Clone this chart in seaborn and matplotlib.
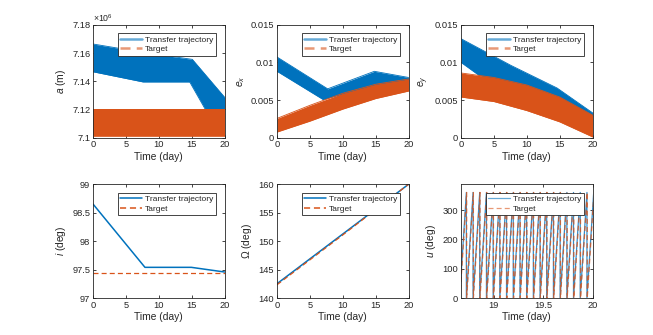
import numpy as np
import pandas as pd
import matplotlib
matplotlib.use("Agg")
import matplotlib.pyplot as plt
import seaborn as sns
from matplotlib.lines import Line2D
from matplotlib.ticker import FuncFormatter

# ---------------- data ----------------
# semi-major axis band (m)
a_tr_t_up = [0, 7.6, 15.1, 20]
a_tr_up = [7.1664e6, 7.1605e6, 7.1555e6, 7.1287e6]
a_tr_t_lo = [0, 7.6, 14.7, 17.2, 20]
a_tr_lo = [7.1467e6, 7.1395e6, 7.1395e6, 7.1190e6, 7.1130e6]
a_tg_t = [0, 20]
a_tg_up = [7.1205e6, 7.1205e6]
a_tg_lo = [7.1014e6, 7.1014e6]

# e_x band
ex_tr_t_up = [0, 7.7, 14.8, 20]
ex_tr_up = [0.01072, 0.00649, 0.00882, 0.00800]
ex_tr_t_lo = [0, 7.0, 10, 15, 20]
ex_tr_lo = [0.00882, 0.00507, 0.00580, 0.00700, 0.00770]
ex_tg_t = [0, 5, 10, 15, 20]
ex_tg_up = [0.00256, 0.00430, 0.00590, 0.00710, 0.00780]
ex_tg_lo = [0.00075, 0.00220, 0.00380, 0.00520, 0.00620]

# e_y band
ey_tr_t_up = [0, 7.6, 14.6, 20]
ey_tr_up = [0.01315, 0.00960, 0.00660, 0.00330]
ey_tr_t_lo = [0, 2.7, 10, 20]
ey_tr_lo = [0.01000, 0.00830, 0.00650, 0.00280]
ey_tg_t = [0, 5, 10, 15, 20]
ey_tg_up = [0.00860, 0.00800, 0.00700, 0.00540, 0.00300]
ey_tg_lo = [0.00540, 0.00480, 0.00360, 0.00210, 0.00010]

# inclination (deg)
i_tr_t = [0, 7.9, 14.95, 20]
i_tr = [98.653, 97.541, 97.541, 97.459]
i_tg_t = [0, 20]
i_tg = [97.447, 97.447]

# RAAN (deg)
om_t = [0, 10, 20]
om_tr = [142.53, 151.26, 160.0]
om_tg = [142.35, 151.10, 160.0]

# argument of latitude: wrap times (day)
u_tr_wraps = [18.656, 18.724, 18.792, 18.859, 18.927, 18.995, 19.062, 19.130,
              19.198, 19.266, 19.333, 19.401, 19.469, 19.536, 19.604, 19.672,
              19.740, 19.807, 19.875, 19.943, 20.011]
u_tg_wraps = [18.659, 18.727, 18.795, 18.862, 18.930, 18.998, 19.065, 19.133,
              19.201, 19.269, 19.336, 19.404, 19.472, 19.539, 19.607, 19.675,
              19.743, 19.810, 19.878, 19.946, 20.014]
u_max = 360

time_ticks = [0, 5, 10, 15, 20]
labels = ["Transfer trajectory", "Target"]

# ---------------- style ----------------
sns.set_theme(style="white")
plt.rcParams["font.family"] = ["Liberation Sans", "DejaVu Sans"]
plt.rcParams["mathtext.fontset"] = "custom"
plt.rcParams["mathtext.rm"] = "Liberation Sans"
plt.rcParams["mathtext.it"] = "Liberation Sans:italic"
plt.rcParams["mathtext.bf"] = "Liberation Sans:bold"

BLUE = "#0072BD"
ORANGE = "#D95319"
AX = "#262626"
DASH = (0, (4, 2.5))

fig = plt.figure(figsize=(6.53, 3.35), dpi=100)
lefts = [0.1424, 0.4242, 0.7060]
w = 0.2015
top_b, top_h = 0.589, 0.337
bot_b, bot_h = 0.110, 0.340
axes = [[fig.add_axes([l, top_b, w, top_h]) for l in lefts],
        [fig.add_axes([l, bot_b, w, bot_h]) for l in lefts]]


def style(ax):
    for s in ax.spines.values():
        s.set_linewidth(0.6)
        s.set_color(AX)
        s.set_visible(True)
        s.set_zorder(10)
    ax.tick_params(direction="in", length=2.5, width=0.6, color=AX,
                   labelcolor=AX, labelsize=6.7, top=True, right=True,
                   bottom=True, left=True, pad=2)
    ax.set_facecolor("white")


def legend(ax, lw=1.8, alpha=0.55):
    h = [Line2D([], [], color=BLUE, lw=lw, alpha=alpha),
         Line2D([], [], color=ORANGE, lw=lw, ls=DASH, alpha=alpha)]
    lg = ax.legend(h, labels, loc="upper right", bbox_to_anchor=(0.935, 0.925),
                   borderaxespad=0, fontsize=6.0, frameon=True, fancybox=False,
                   framealpha=1, edgecolor=AX, handlelength=2.6,
                   handletextpad=0.4, borderpad=0.3, labelspacing=0.2)
    lg.get_frame().set_linewidth(0.6)
    lg.set_zorder(20)


def band(ax, tu, up, tl, lo, color, z):
    # band drawn from its upper and lower envelopes
    df_u = pd.DataFrame({"t": tu, "v": up})
    df_l = pd.DataFrame({"t": tl, "v": lo})
    sns.lineplot(data=df_u, x="t", y="v", ax=ax, color=color, lw=0.6, zorder=z)
    sns.lineplot(data=df_l, x="t", y="v", ax=ax, color=color, lw=0.6, zorder=z)
    tt = np.union1d(tu, tl)
    ax.fill_between(tt, np.interp(tt, tl, lo), np.interp(tt, tu, up),
                    color=color, lw=0, zorder=z)


def xlab(ax):
    ax.set_xlabel("Time (day)", fontsize=7.4, color=AX, labelpad=1.5)


# --- a ---
ax = axes[0][0]
band(ax, a_tr_t_up, a_tr_up, a_tr_t_lo, a_tr_lo, BLUE, 2)
band(ax, a_tg_t, a_tg_up, a_tg_t, a_tg_lo, ORANGE, 3)
ax.set_xlim(0, 20)
ax.set_ylim(7.1e6, 7.18e6)
ax.set_yticks([7.1e6, 7.12e6, 7.14e6, 7.16e6, 7.18e6])
ax.yaxis.set_major_formatter(FuncFormatter(lambda v, p: f"{v/1e6:g}"))
ax.text(0.0, 1.01, r"$\times10^{6}$", transform=ax.transAxes, fontsize=6.3,
        color=AX, ha="left", va="bottom")
ax.set_ylabel("$a$ (m)", fontsize=7.4, color=AX, labelpad=3)

# --- e_x ---
ax = axes[0][1]
band(ax, ex_tr_t_up, ex_tr_up, ex_tr_t_lo, ex_tr_lo, BLUE, 2)
band(ax, ex_tg_t, ex_tg_up, ex_tg_t, ex_tg_lo, ORANGE, 3)
ax.set_xlim(0, 20)
ax.set_ylim(0, 0.015)
ax.set_yticks([0, 0.005, 0.01, 0.015])
ax.yaxis.set_major_formatter(FuncFormatter(lambda v, p: f"{v:g}"))
ax.set_ylabel("$e_x$", fontsize=7.4, color=AX, labelpad=3)

# --- e_y ---
ax = axes[0][2]
band(ax, ey_tr_t_up, ey_tr_up, ey_tr_t_lo, ey_tr_lo, BLUE, 2)
band(ax, ey_tg_t, ey_tg_up, ey_tg_t, ey_tg_lo, ORANGE, 3)
ax.set_xlim(0, 20)
ax.set_ylim(0, 0.015)
ax.set_yticks([0, 0.005, 0.01, 0.015])
ax.yaxis.set_major_formatter(FuncFormatter(lambda v, p: f"{v:g}"))
ax.set_ylabel("$e_y$", fontsize=7.4, color=AX, labelpad=3)

# --- i ---
ax = axes[1][0]
sns.lineplot(x=i_tr_t, y=i_tr, ax=ax, color=BLUE, lw=1.1)
sns.lineplot(x=i_tg_t, y=i_tg, ax=ax, color=ORANGE, lw=0.9, ls=DASH)
ax.set_xlim(0, 20)
ax.set_ylim(97, 99)
ax.set_yticks([97, 97.5, 98, 98.5, 99])
ax.yaxis.set_major_formatter(FuncFormatter(lambda v, p: f"{v:g}"))
ax.set_ylabel("$i$ (deg)", fontsize=7.4, color=AX, labelpad=3)

# --- Omega ---
ax = axes[1][1]
sns.lineplot(x=om_t, y=om_tr, ax=ax, color=BLUE, lw=1.1)
sns.lineplot(x=om_t, y=om_tg, ax=ax, color=ORANGE, lw=0.9, ls=DASH)
ax.set_xlim(0, 20)
ax.set_ylim(140, 160)
ax.set_yticks([140, 145, 150, 155, 160])
ax.set_ylabel(r"$\Omega$ (deg)", fontsize=7.4, color=AX, labelpad=3)


# --- u ---
def saw(wraps):
    t, u = [wraps[0]], [0]
    for wv in wraps[1:]:
        t += [wv, wv]
        u += [u_max, 0]
    return t, u


ax = axes[1][2]
t1, u1 = saw(u_tr_wraps)
t2, u2 = saw(u_tg_wraps)
sns.lineplot(x=t1, y=u1, ax=ax, color=BLUE, lw=0.9, estimator=None,
             sort=False, alpha=0.8)
sns.lineplot(x=t2, y=u2, ax=ax, color=ORANGE, lw=0.9, ls=DASH,
             estimator=None, sort=False, alpha=0.8)
ax.set_xlim(18.67, 20.0)
ax.set_ylim(0, 388)
ax.set_xticks([19, 19.5, 20])
ax.set_yticks([0, 100, 200, 300])
ax.xaxis.set_major_formatter(FuncFormatter(lambda v, p: f"{v:g}"))
ax.set_ylabel("$u$ (deg)", fontsize=7.4, color=AX, labelpad=3)

for r, row in enumerate(axes):
    for c, ax in enumerate(row):
        style(ax)
        if not (r == 1 and c == 2):
            ax.set_xticks(time_ticks)
        xlab(ax)
        if r == 0:
            legend(ax, lw=1.8, alpha=0.6)
        elif c == 2:
            legend(ax, lw=0.9, alpha=0.6)
        else:
            legend(ax, lw=1.1, alpha=1.0)

fig.savefig("out.png", dpi=100, facecolor="white")
